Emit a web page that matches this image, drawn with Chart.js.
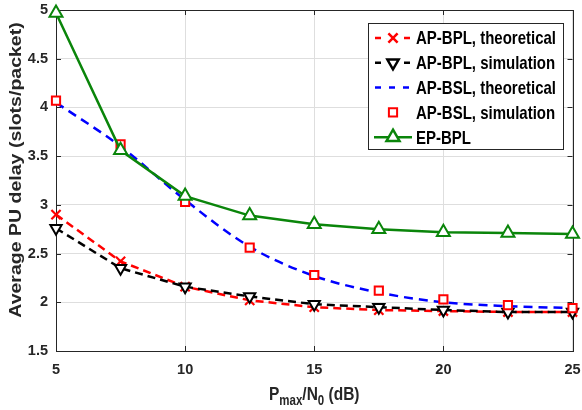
<!DOCTYPE html>
<html>
<head>
<meta charset="utf-8">
<script src="https://cdn.jsdelivr.net/npm/chart.js@4.4.0/dist/chart.umd.min.js"></script>
<style>
  html, body { margin: 0; padding: 0; background: #fff; }
</style>
</head>
<body>
<canvas id="Chart" width="582" height="410"></canvas>
<script>
// x values (Pmax/N0 in dB)
const snrDb = [5, 7.5, 10, 12.5, 15, 17.5, 20, 22.5, 25];

// series
const apBplTheory = [2.90, 2.42, 2.16, 2.02, 1.95, 1.92, 1.91, 1.90, 1.90];
const apBplSim    = [2.76, 2.35, 2.16, 2.06, 1.98, 1.95, 1.92, 1.90, 1.90];
const apBslTheory = [4.05, 3.60, 3.05, 2.57, 2.27, 2.10, 2.00, 1.96, 1.94];
const apBslSim    = [4.07, 3.62, 3.03, 2.56, 2.28, 2.12, 2.03, 1.97, 1.94];
const epBpl       = [4.97, 3.56, 3.09, 2.89, 2.80, 2.75, 2.72, 2.71, 2.70];

const seriesNames = ["AP-BPL, theoretical", "AP-BPL, simulation", "AP-BSL, theoretical", "AP-BSL, simulation", "EP-BPL"];

const xTicks = [5, 10, 15, 20, 25];
const yTicks = [1.5, 2, 2.5, 3, 3.5, 4, 4.5, 5];

const FONT = "'Liberation Sans', Arial, sans-serif";
const AXIS_COLOR = "#262626";
// text in the figure is a bit stretched vertically
const STRETCH = 1.24;

function toPoints(ys) {
    return snrDb.map((x, i) => ({ x: x, y: ys[i] }));
}

// inward ticks + box, drawn under the data like matlab
const framePlugin = {
    id: "frame",
    beforeDatasetsDraw(chart) {
        const ctx = chart.ctx;
        const a = chart.chartArea;
        const xs = chart.scales.x, ys = chart.scales.y;
        ctx.save();
        ctx.strokeStyle = AXIS_COLOR;
        ctx.lineWidth = 1;
        ctx.strokeRect(Math.round(a.left) + 0.5, Math.round(a.top) + 0.5,
                       Math.round(a.right - a.left), Math.round(a.bottom - a.top));
        ctx.beginPath();
        xTicks.forEach(v => {
            const px = Math.round(xs.getPixelForValue(v)) + 0.5;
            ctx.moveTo(px, a.bottom); ctx.lineTo(px, a.bottom - 5);
            ctx.moveTo(px, a.top); ctx.lineTo(px, a.top + 5);
        });
        yTicks.forEach(v => {
            const py = Math.round(ys.getPixelForValue(v)) + 0.5;
            ctx.moveTo(a.left, py); ctx.lineTo(a.left + 5, py);
            ctx.moveTo(a.right, py); ctx.lineTo(a.right - 5, py);
        });
        ctx.stroke();
        ctx.restore();
    }
};

// axis titles (x title needs subscripts)
const titlesPlugin = {
    id: "titles",
    afterDraw(chart) {
        const ctx = chart.ctx;
        const a = chart.chartArea;
        ctx.save();
        ctx.fillStyle = AXIS_COLOR;
        ctx.textBaseline = "alphabetic";

        const big = "bold 15.5px " + FONT, small = "bold 11.5px " + FONT;
        const parts = [["P", big, 0], ["max", small, 4], ["/N", big, 0], ["0", small, 4], [" (dB)", big, 0]];
        let total = 0;
        parts.forEach(p => { ctx.font = p[1]; total += ctx.measureText(p[0]).width; });
        let x = (a.left + a.right) / 2 - total / 2;
        ctx.save();
        ctx.translate(0, 400);
        ctx.scale(1, STRETCH);
        ctx.textAlign = "left";
        parts.forEach(p => {
            ctx.font = p[1];
            ctx.fillText(p[0], x, p[2]);
            x += ctx.measureText(p[0]).width;
        });
        ctx.restore();

        ctx.translate(17, 170);
        ctx.rotate(-Math.PI / 2);
        ctx.scale(1.22, 1);
        ctx.font = "bold 16px " + FONT;
        ctx.textAlign = "center";
        ctx.textBaseline = "middle";
        ctx.fillText("Average PU delay (slots/packet)", 0, 0);
        ctx.restore();
    }
};

// legend box in the upper right corner with line + marker samples
const legendPlugin = {
    id: "boxLegend",
    afterDraw(chart) {
        const ctx = chart.ctx;
        const box = { left: 368, top: 23, right: 563, bottom: 149 };
        ctx.save();
        ctx.fillStyle = "#fff";
        ctx.fillRect(box.left, box.top, box.right - box.left, box.bottom - box.top);
        ctx.strokeStyle = AXIS_COLOR;
        ctx.lineWidth = 1;
        ctx.strokeRect(box.left + 0.5, box.top + 0.5, box.right - box.left, box.bottom - box.top);

        chart.data.datasets.forEach((ds, i) => {
            const y = 38 + i * 24.8;
            const mx = 393;
            ctx.strokeStyle = ds.borderColor;
            ctx.lineWidth = ds.borderWidth;
            if (ds.showLine !== false) {
                ctx.beginPath();
                if (ds.borderDash && ds.pointRadius > 0) {
                    ctx.moveTo(375, y); ctx.lineTo(381, y);
                    ctx.moveTo(404, y); ctx.lineTo(410, y);
                } else if (ds.borderDash) {
                    ctx.moveTo(375, y); ctx.lineTo(381, y);
                    ctx.moveTo(389, y); ctx.lineTo(395, y);
                    ctx.moveTo(403, y); ctx.lineTo(409, y);
                } else {
                    ctx.moveTo(374, y); ctx.lineTo(412, y);
                }
                ctx.stroke();
            }
            if (ds.pointRadius > 0) {
                ctx.strokeStyle = ds.pointBorderColor;
                ctx.fillStyle = ds.pointBackgroundColor;
                Chart.helpers.drawPoint(ctx, {
                    pointStyle: ds.pointStyle,
                    radius: ds.pointRadius,
                    rotation: ds.pointRotation || 0,
                    borderWidth: ds.pointBorderWidth
                }, mx, y);
            }
            ctx.save();
            ctx.translate(416, y + 1);
            ctx.scale(1, 1.28);
            ctx.fillStyle = "#000";
            ctx.font = "bold 15px " + FONT;
            ctx.textAlign = "left";
            ctx.textBaseline = "middle";
            ctx.fillText(seriesNames[i], 0, 0);
            ctx.restore();
        });
        ctx.restore();
    }
};

new Chart("Chart", {
    type: "line",
    data: {
        datasets: [
            {
                label: seriesNames[0], data: toPoints(apBplTheory), order: 5, clip: false,
                borderColor: "#ff0000", borderWidth: 2.5, borderDash: [8, 5],
                pointStyle: "crossRot", pointRadius: 6.5, pointBorderWidth: 2.2,
                pointBorderColor: "#ff0000", pointBackgroundColor: "#ff0000"
            },
            {
                label: seriesNames[1], data: toPoints(apBplSim), order: 4, clip: false,
                borderColor: "#000000", borderWidth: 2.5, borderDash: [8, 5],
                pointStyle: "triangle", pointRotation: 180, pointRadius: 6.5, pointBorderWidth: 2,
                pointBorderColor: "#000000", pointBackgroundColor: "#ffffff"
            },
            {
                label: seriesNames[2], data: toPoints(apBslTheory), order: 3, clip: false,
                borderColor: "#0000ff", borderWidth: 2.5, borderDash: [9, 6],
                cubicInterpolationMode: "monotone",
                pointRadius: 0, pointBorderColor: "#0000ff", pointBackgroundColor: "#0000ff"
            },
            {
                label: seriesNames[3], data: toPoints(apBslSim), order: 2, clip: false,
                showLine: false, borderColor: "#ff0000", borderWidth: 2,
                pointStyle: "rect", pointRadius: 5.8, pointBorderWidth: 2,
                pointBorderColor: "#ff0000", pointBackgroundColor: "#ffffff"
            },
            {
                label: seriesNames[4], data: toPoints(epBpl), order: 1, clip: false,
                borderColor: "#0a850a", borderWidth: 2.5,
                pointStyle: "triangle", pointRadius: 7.5, pointBorderWidth: 2,
                pointBorderColor: "#0a850a", pointBackgroundColor: "#ffffff"
            }
        ]
    },
    options: {
        responsive: false,
        animation: false,
        devicePixelRatio: 1,
        layout: { padding: { top: 10, right: 8, left: 0, bottom: 0 } },
        plugins: {
            legend: { display: false },
            tooltip: { enabled: false }
        },
        scales: {
            x: {
                type: "linear", min: 5, max: 25,
                afterBuildTicks: (s) => { s.ticks = xTicks.map(v => ({ value: v })); },
                afterFit: (s) => { s.height = 59; s.paddingLeft = 0; s.paddingRight = 0; },
                grid: { color: "#dedede", drawTicks: false },
                border: { display: false },
                ticks: {
                    padding: 10, color: AXIS_COLOR, maxRotation: 0,
                    callback: (v) => String(v),
                    font: { family: FONT, size: 14.5, weight: "bold" }
                }
            },
            y: {
                type: "linear", min: 1.5, max: 5,
                afterBuildTicks: (s) => { s.ticks = yTicks.map(v => ({ value: v })); },
                afterFit: (s) => { s.width = 56; s.paddingTop = 0; s.paddingBottom = 0; },
                grid: { color: "#dedede", drawTicks: false },
                border: { display: false },
                ticks: {
                    padding: 8, color: AXIS_COLOR,
                    callback: (v) => String(v),
                    font: { family: FONT, size: 14.5, weight: "bold" }
                }
            }
        }
    },
    plugins: [framePlugin, titlesPlugin, legendPlugin]
});
</script>
</body>
</html>
